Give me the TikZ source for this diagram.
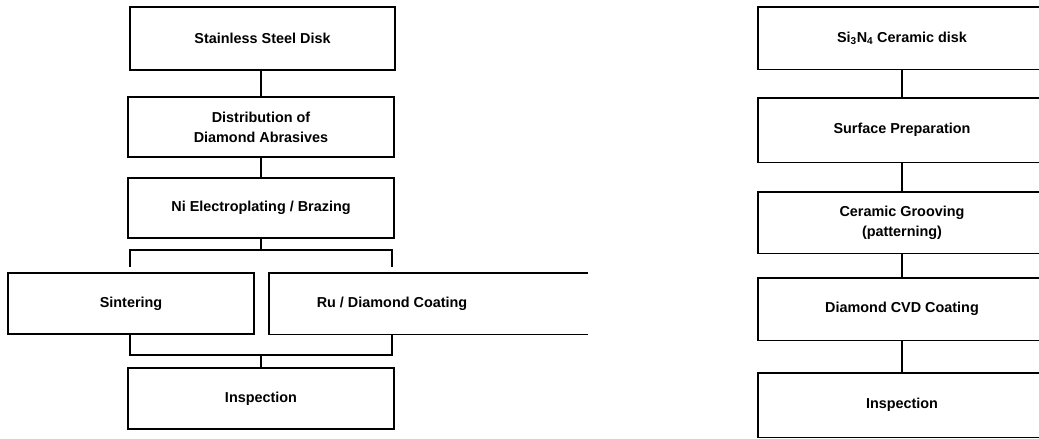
\documentclass[tikz,border=0pt]{standalone}
\usepackage{fontspec}
\setmainfont{Liberation Sans}
\usetikzlibrary{calc}
\tikzset{
  box/.style={rectangle, inner sep=0pt, align=center, font=\bfseries\fontsize{14.4}{20}\selectfont},
  framed/.style={box, draw, line width=1.4pt},
  line/.style={line width=1.4pt},
}
\begin{document}
\begin{tikzpicture}[x=1pt,y=-1pt]
\useasboundingbox (0,0) rectangle (1039,439);
% left column
\node[framed, minimum width=265pt, minimum height=63pt] (ssd) at (262.5,38.5) {Stainless Steel Disk};
\node[framed, minimum width=266pt, minimum height=60pt] (dist) at (261,127) {Distribution of\\Diamond Abrasives};
\node[framed, minimum width=266pt, minimum height=60pt] (ni) at (261,208) {Ni Electroplating / Brazing};
\node[framed, minimum width=246pt, minimum height=61pt] (sin) at (131,303.5) {Sintering};
\node[box, minimum width=246pt, minimum height=61pt] (ru) at (392,303.5) {Ru / Diamond Coating};
\node[framed, minimum width=266pt, minimum height=61pt] (insl) at (261,398.5) {Inspection};
\coordinate (ruedge) at (588,0);
\draw[line] (ru.north west -| ruedge) -- (ru.north west) -- (ru.south west) -- (ru.south west -| ruedge);
\draw[line] (ssd.south -| dist.north) -- (dist.north);
\draw[line] (dist.south) -- (ni.north);
\coordinate (fork) at (261,250);
\coordinate (ftl) at (130,267);
\coordinate (ftr) at (392,267);
\draw[line] (ni.south) -- (fork);
\draw[line] (ftl) |- (fork) -| (ftr);
\coordinate (join) at (261,355);
\coordinate (fbl) at (130,335);
\coordinate (fbr) at (392,335);
\draw[line] (fbl) |- (join) -| (fbr);
\draw[line] (join) -- (insl.north);
% right column
\coordinate (redge) at (1039,0);
\node[box, minimum width=288pt, minimum height=62pt] (si) at (902,38) {Si\textsubscript{3}N\textsubscript{4} Ceramic disk};
\node[box, minimum width=288pt, minimum height=64pt] (sp) at (902,130) {Surface Preparation};
\node[box, minimum width=288pt, minimum height=61pt] (cg) at (902,222.5) {Ceramic Grooving\\(patterning)};
\node[box, minimum width=288pt, minimum height=62pt] (cvd) at (902,309) {Diamond CVD Coating};
\node[box, minimum width=288pt, minimum height=64pt] (insr) at (902,405) {Inspection};
\foreach \n in {si,sp,cg,cvd,insr}{
  \draw[line] (\n.north west -| redge) -- (\n.north west) -- (\n.south west) -- (\n.south west -| redge);
}
\draw[line] (si.south) -- (sp.north);
\draw[line] (sp.south) -- (cg.north);
\draw[line] (cg.south) -- (cvd.north);
\draw[line] (cvd.south) -- (insr.north);
\end{tikzpicture}
\end{document}
